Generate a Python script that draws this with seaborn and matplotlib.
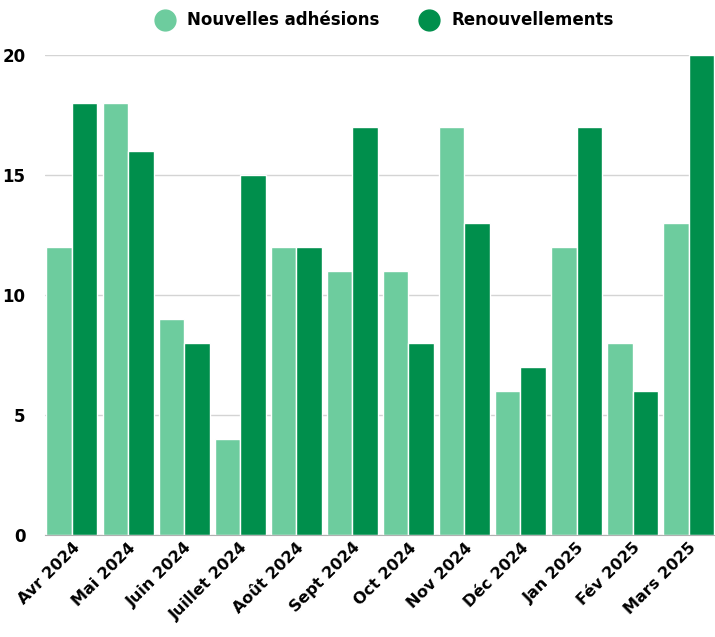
import pandas as pd
import matplotlib.pyplot as plt
import seaborn as sns
from matplotlib.lines import Line2D

# data
mois = ["Avr 2024", "Mai 2024", "Juin 2024", "Juillet 2024", "Août 2024", "Sept 2024",
        "Oct 2024", "Nov 2024", "Déc 2024", "Jan 2025", "Fév 2025", "Mars 2025"]
nouvelles = [12, 18, 9, 4, 12, 11, 11, 17, 6, 12, 8, 13]
renouvellements = [18, 16, 8, 15, 12, 17, 8, 13, 7, 17, 6, 20]
series = ["Nouvelles adhésions", "Renouvellements"]
couleurs = ["#6dcc9e", "#008f4c"]

df = pd.DataFrame({
    "mois": mois * 2,
    "valeur": nouvelles + renouvellements,
    "serie": [series[0]] * len(mois) + [series[1]] * len(mois),
})

sns.set_style("white")
plt.rcParams["font.family"] = ["DejaVu Sans"]
plt.rcParams["text.color"] = "black"
plt.rcParams["xtick.color"] = "black"
plt.rcParams["ytick.color"] = "black"

fig = plt.figure(figsize=(7.15, 6.37), dpi=100)
ax = fig.add_axes([0.063, 0.16, 0.937, 0.754])

sns.barplot(data=df, x="mois", y="valeur", hue="serie", palette=couleurs,
            width=0.91, edgecolor="white", linewidth=1, saturation=1,
            legend=False, ax=ax)

ax.set_xlim(-0.48, 11.47)
ax.set_ylim(0, 20)
ax.set_yticks([0, 5, 10, 15, 20])
ax.yaxis.grid(True, color="#d4d4d4", linewidth=1)
ax.set_axisbelow(True)
for s in ["left", "right", "top"]:
    ax.spines[s].set_visible(False)
ax.spines["bottom"].set_color("#b0b0b0")
ax.set_xlabel("")
ax.set_ylabel("")
ax.tick_params(axis="both", length=0, labelcolor="black")
ax.tick_params(axis="y", pad=14)
for lab in ax.get_yticklabels():
    lab.set_fontsize(12)
    lab.set_fontweight("bold")
ax.set_xticks(range(len(mois)))
ax.set_xticklabels(mois, rotation=45, ha="right", rotation_mode="anchor",
                   fontsize=11.5, fontweight="bold", color="black")

handles = [Line2D([], [], marker="o", linestyle="", markersize=15,
                  markerfacecolor=c, markeredgecolor=c) for c in couleurs]
fig.legend(handles, series, loc="center", bbox_to_anchor=(0.533, 0.968), ncol=2,
           frameon=False, prop={"size": 12, "weight": "bold"},
           handletextpad=0.3, columnspacing=2.0, labelcolor="black")

plt.savefig("out.png", dpi=100)
